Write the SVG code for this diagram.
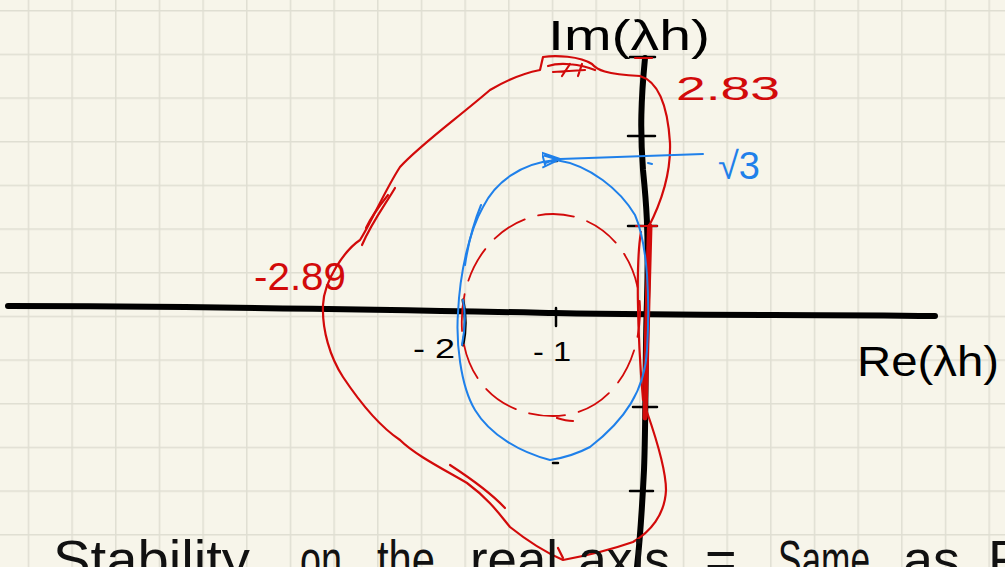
<svg xmlns="http://www.w3.org/2000/svg" width="1005" height="567" viewBox="0 0 1005 567">
<defs>
<pattern id="grid" patternUnits="userSpaceOnUse" x="27.7" y="10" width="43.67" height="43.67">
<path d="M0,0 H43.67 M0,0 V43.67" fill="none" stroke="#dfded2" stroke-width="3"/>
</pattern>
<marker id="arrowB" viewBox="0 0 20 20" refX="2" refY="10" markerWidth="20" markerHeight="20" markerUnits="userSpaceOnUse" orient="auto">
<path d="M20,2 L2,10 L20,17 L17,4 M18,6 L6,10 L18,14" fill="none" stroke="#1f80ea" stroke-width="2" stroke-linejoin="round"/>
</marker>
<style>
.red{fill:none;stroke:#d20a0a;stroke-width:2.2;stroke-linecap:round;stroke-linejoin:round}
.blue{fill:none;stroke:#1f80ea;stroke-width:2;stroke-linecap:round;stroke-linejoin:round}
.axis{fill:none;stroke:#000;stroke-width:6;stroke-linecap:round;stroke-linejoin:round}
.tick{fill:none;stroke:#000;stroke-width:2.5;stroke-linecap:round}
.lbl{font-family:"Liberation Sans",Arial,sans-serif;fill:#000}
.rlbl{font-family:"Liberation Sans",Arial,sans-serif;fill:#d20a0a}
.blbl{font-family:"Liberation Sans",Arial,sans-serif;fill:#1f80ea}
.hw{font-family:"Liberation Sans",Arial,sans-serif;fill:#111;font-size:54px}
</style>
</defs>
<rect x="0" y="0" width="1005" height="567" fill="#f7f5ea"/>
<rect x="0" y="0" width="1005" height="567" fill="url(#grid)"/>

<g id="axes">
<path class="axis" d="M8,306 C200,306 400,310 555,313 S800,314 935,316"/>
<path class="axis" d="M645,58 C641,100 640,130 643,170 C646,200 649,230 647,300 C645,360 646,420 644,470 C642,510 640,540 637,567"/>
<path class="tick" d="M630,57 H655 M628,136 H655 M628,226 H657 M633,407 H657 M630,491 H653 M556,308 V326"/>
<path d="M463,300 C466,315 466,330 463,345" fill="none" stroke="#000" stroke-width="3" stroke-linecap="round"/>
<path d="M552,161 L557,161 M553,463 L558,463" fill="none" stroke="#000" stroke-width="2.5" stroke-linecap="round"/>
</g>

<g id="red-region">
<path class="red" d="M543,57 C555,55 580,56 592,64 C597,70 605,74 640,76 C660,82 668,110 670,143 C671,175 660,205 648,228 L646,300 L644,380 C645,400 646,410 647,412 C655,435 666,470 666,490 C665,515 650,532 633,542 C610,550 590,555 563,560 C540,550 520,535 510,527 C500,515 490,500 467,483 C445,470 415,455 400,440 C385,430 365,410 343,377 C330,357 322,330 323,305 C324,280 345,250 360,240 C370,225 385,190 400,167 C420,145 455,120 490,90 C510,78 530,72 540,70 L543,57"/>
<path class="red" d="M548,66 C560,62 580,64 595,70 M553,72 L585,70 M562,76 L570,64 M578,76 L582,64 M635,58 H652"/>
<path class="red" d="M395,188 C385,205 372,222 362,245 M366,228 C372,215 380,205 388,195"/>
<path class="red" d="M450,465 C470,478 490,492 505,508"/>
<path class="red" d="M563,558 L558,548"/>
<path d="M650,226 L648,300 L646,380 L645,418" fill="none" stroke="#d20a0a" stroke-width="5" stroke-linecap="round"/>
<path class="red" d="M641,232 C636,260 637,330 643,400 M636,226 H657"/>
</g>

<g id="red-dashed">
<path d="M462,330 C458,260 505,214 553,214 C605,214 642,260 640,315 C638,370 605,416 553,416 C505,416 466,385 462,330" fill="none" stroke="#d20a0a" stroke-width="1.8" stroke-dasharray="36 14" stroke-linecap="round"/>
<path class="red" d="M557,418 C563,420 568,421 573,421"/>
</g>

<g id="blue-region">
<path class="blue" d="M556,160 C590,165 620,190 635,215 C648,245 650,300 647,350 C645,390 625,420 590,447 C575,455 563,458 550,460 C520,452 490,435 475,410 C460,385 456,340 458,313 C460,270 470,230 483,207 C495,183 520,163 556,160"/>
<path class="blue" d="M481,205 C474,222 468,245 465,265 M463,300 C466,315 465,330 462,345 M648,163 L652,164"/>
</g>

<g id="connectors">
<line class="blue" x1="703" y1="154" x2="560" y2="159" marker-end="url(#arrowB)"/>
</g>

<g id="labels">
<text class="lbl" x="548" y="50" font-size="42" textLength="162" lengthAdjust="spacingAndGlyphs">Im(λh)</text>
<text class="lbl" x="857" y="376" font-size="42" textLength="142" lengthAdjust="spacingAndGlyphs">Re(λh)</text>
<text class="rlbl" x="676" y="100" font-size="33" textLength="104" lengthAdjust="spacingAndGlyphs">2.83</text>
<text class="rlbl" x="254" y="290" font-size="38" textLength="92" lengthAdjust="spacingAndGlyphs">-2.89</text>
<text class="blbl" x="718" y="179" font-size="38">√3</text>
<text class="lbl" x="413" y="358" font-size="28" textLength="42" lengthAdjust="spacingAndGlyphs">- 2</text>
<text class="lbl" x="533" y="361" font-size="28" textLength="38" lengthAdjust="spacingAndGlyphs">- 1</text>
</g>

<g id="caption">
<text class="hw" x="53" y="578" textLength="197" lengthAdjust="spacingAndGlyphs">Stability</text>
<text class="hw" x="300" y="578" textLength="42" lengthAdjust="spacingAndGlyphs">on</text>
<text class="hw" x="377" y="578" textLength="58" lengthAdjust="spacingAndGlyphs">the</text>
<text class="hw" x="470" y="578" textLength="88" lengthAdjust="spacingAndGlyphs">real</text>
<text class="hw" x="578" y="578" textLength="92" lengthAdjust="spacingAndGlyphs">axis</text>
<text class="hw" x="705" y="578">=</text>
<text class="hw" x="778" y="578" textLength="92" lengthAdjust="spacingAndGlyphs">Same</text>
<text class="hw" x="903" y="578" textLength="57" lengthAdjust="spacingAndGlyphs">as</text>
<text class="hw" x="988" y="578">F</text>
</g>
</svg>
